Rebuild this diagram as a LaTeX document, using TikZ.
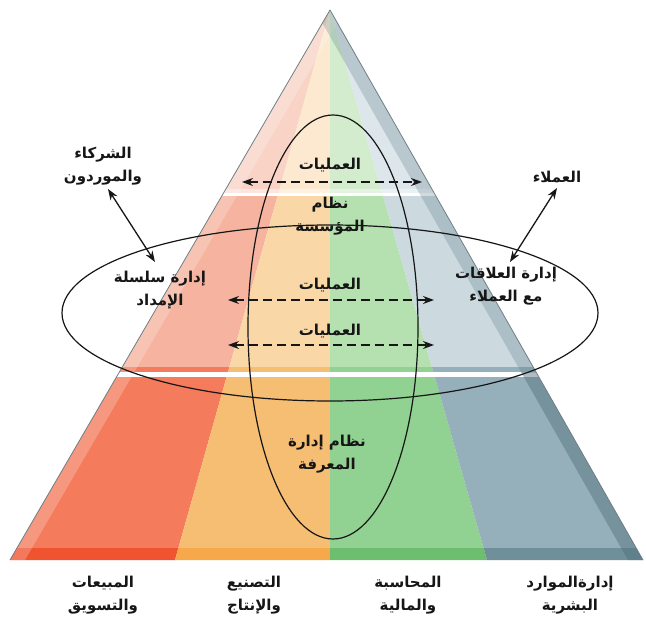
\documentclass[tikz,border=0pt]{standalone}
\usepackage{fontspec}
\newfontfamily\arabicfont[Script=Arabic]{DejaVu Sans}
\TeXXeTstate=1
\usetikzlibrary{arrows.meta,calc}
\newcommand\rtl[1]{\beginR#1\endR}
\definecolor{rA}{HTML}{F9D4C6}\definecolor{oA}{HTML}{FCE9CF}\definecolor{gA}{HTML}{D3ECCD}\definecolor{bA}{HTML}{DDE6EB}
\definecolor{rB}{HTML}{F6B4A0}\definecolor{oB}{HTML}{F9D7A6}\definecolor{gB}{HTML}{B5E0B0}\definecolor{bB}{HTML}{CCDAE0}
\definecolor{rC}{HTML}{F47B5B}\definecolor{oC}{HTML}{F6BE73}\definecolor{gC}{HTML}{91D191}\definecolor{bC}{HTML}{95B0BA}
\definecolor{rD}{HTML}{F0532F}\definecolor{oD}{HTML}{F6A84A}\definecolor{gD}{HTML}{6DBF6F}\definecolor{bD}{HTML}{6F8F9B}
\definecolor{bevelblue}{HTML}{4F6E7A}
\definecolor{edgegrey}{HTML}{6F7F86}
\definecolor{ink}{HTML}{161616}
\newcommand\tierfill[6]{%
  \begin{scope}
    \clip (-10,#1) rectangle (660,#2);
    \fill[#3] (A) -- (-300,560) -- (P1) -- cycle;
    \fill[#4] (A) -- (P1) -- (P2) -- cycle;
    \fill[#5] (A) -- (P2) -- (P3) -- cycle;
    \fill[#6] (A) -- (P3) -- (900,560) -- cycle;
  \end{scope}}
\tikzset{
  lbl/.style={font=\arabicfont\bfseries\fontsize{15}{23}\selectfont, text=ink, align=center, inner sep=1pt},
  opsarrow/.style={draw=ink, line width=1.2pt, dash pattern=on 9pt off 5pt, {Stealth[length=11pt,width=8pt]}-{Stealth[length=11pt,width=8pt]}},
  linkarrow/.style={draw=ink, line width=1.3pt, {Stealth[length=11pt,width=8pt]}-{Stealth[length=11pt,width=8pt]}},
  ring/.style={draw=ink, line width=1.2pt}
}
\begin{document}
\begin{tikzpicture}[x=1pt,y=-1pt]
\fill[white] (0,0) rectangle (646,623);
\useasboundingbox (0,0) rectangle (646,623);
\coordinate (A) at (330,10);
\coordinate (BL) at (10,560);
\coordinate (BR) at (643,560);
\coordinate (P1) at (175,560);
\coordinate (P2) at (330,560);
\coordinate (P3) at (487,560);
% pyramid body
\begin{scope}
  \clip (A) -- (BL) -- (BR) -- cycle;
  \tierfill{0}{190}{rA}{oA}{gA}{bA}
  \tierfill{190}{197}{rA!60!white}{oA!60!white}{gA!60!white}{bA!60!white}
  \tierfill{197}{367}{rB}{oB}{gB}{bB}
  \tierfill{367}{372}{rC}{oC}{gC}{bC}
  \tierfill{377}{548}{rC}{oC}{gC}{bC}
  \tierfill{548}{561}{rD}{oD}{gD}{bD}
  \fill[white] (0,193) rectangle (646,196);
  \fill[white] (0,372) rectangle (646,377);
  % bevels
  \fill[white,opacity=0.22] (A) -- (BL) -- ($(BL)+(15,0)$) -- ($(A)+(15,0)$) -- cycle;
  \begin{scope}
    \clip (0,0) rectangle (646,372);
    \fill[bevelblue,opacity=0.25] (A) -- (BR) -- ($(BR)+(-15,0)$) -- ($(A)+(-15,0)$) -- cycle;
  \end{scope}
  \begin{scope}
    \clip (0,372) rectangle (646,561);
    \fill[bevelblue,opacity=0.45] (A) -- (BR) -- ($(BR)+(-15,0)$) -- ($(A)+(-15,0)$) -- cycle;
  \end{scope}
\end{scope}
\draw[edgegrey, line width=0.8pt, line join=round] (BL) -- (A) -- (BR);
% ellipses
\draw[ring] (333,327) ellipse [x radius=85, y radius=212];
\draw[ring] (330,313) ellipse [x radius=268, y radius=88];
% central labels
\node[lbl] (ops1) at (330,165) {\rtl{العمليات}};
\node[lbl] (org) at (330,216) {\rtl{نظام}\\\rtl{المؤسسة}};
\node[lbl] (ops2) at (330,285) {\rtl{العمليات}};
\node[lbl] (ops3) at (330,331) {\rtl{العمليات}};
\node[lbl] (km) at (327,454) {\rtl{نظام إدارة}\\\rtl{المعرفة}};
% side labels
\node[lbl] (partners) at (103,166) {\rtl{الشركاء}\\\rtl{والموردون}};
\node[lbl] (scm) at (160,290) {\rtl{إدارة سلسلة}\\\rtl{الإمداد}};
\node[lbl] (cust) at (557,177) {\rtl{العملاء}};
\node[lbl] (crm) at (506,286) {\rtl{إدارة العلاقات}\\\rtl{مع العملاء}};
% bottom labels
\node[lbl] (sales) at (103,595) {\rtl{المبيعات}\\\rtl{والتسويق}};
\node[lbl] (manu) at (254,595) {\rtl{التصنيع}\\\rtl{والإنتاج}};
\node[lbl] (acct) at (408,595) {\rtl{المحاسبة}\\\rtl{والمالية}};
\node[lbl] (hr) at (570,595) {\rtl{إدارةالموارد}\\\rtl{البشرية}};
% arrow ends
\coordinate (o1l) at (242,182); \coordinate (o1r) at (422,182);
\coordinate (o2l) at (228,300); \coordinate (o2r) at (434,300);
\coordinate (o3l) at (228,345); \coordinate (o3r) at (434,345);
\coordinate (pa) at (108,189); \coordinate (pb) at (155,262);
\coordinate (ca) at (557,188); \coordinate (cb) at (510,262);
\draw[opsarrow] (o1l) -- (o1r);
\draw[opsarrow] (o2l) -- (o2r);
\draw[opsarrow] (o3l) -- (o3r);
\draw[linkarrow] (pa) -- (pb);
\draw[linkarrow] (ca) -- (cb);
\end{tikzpicture}
\end{document}
